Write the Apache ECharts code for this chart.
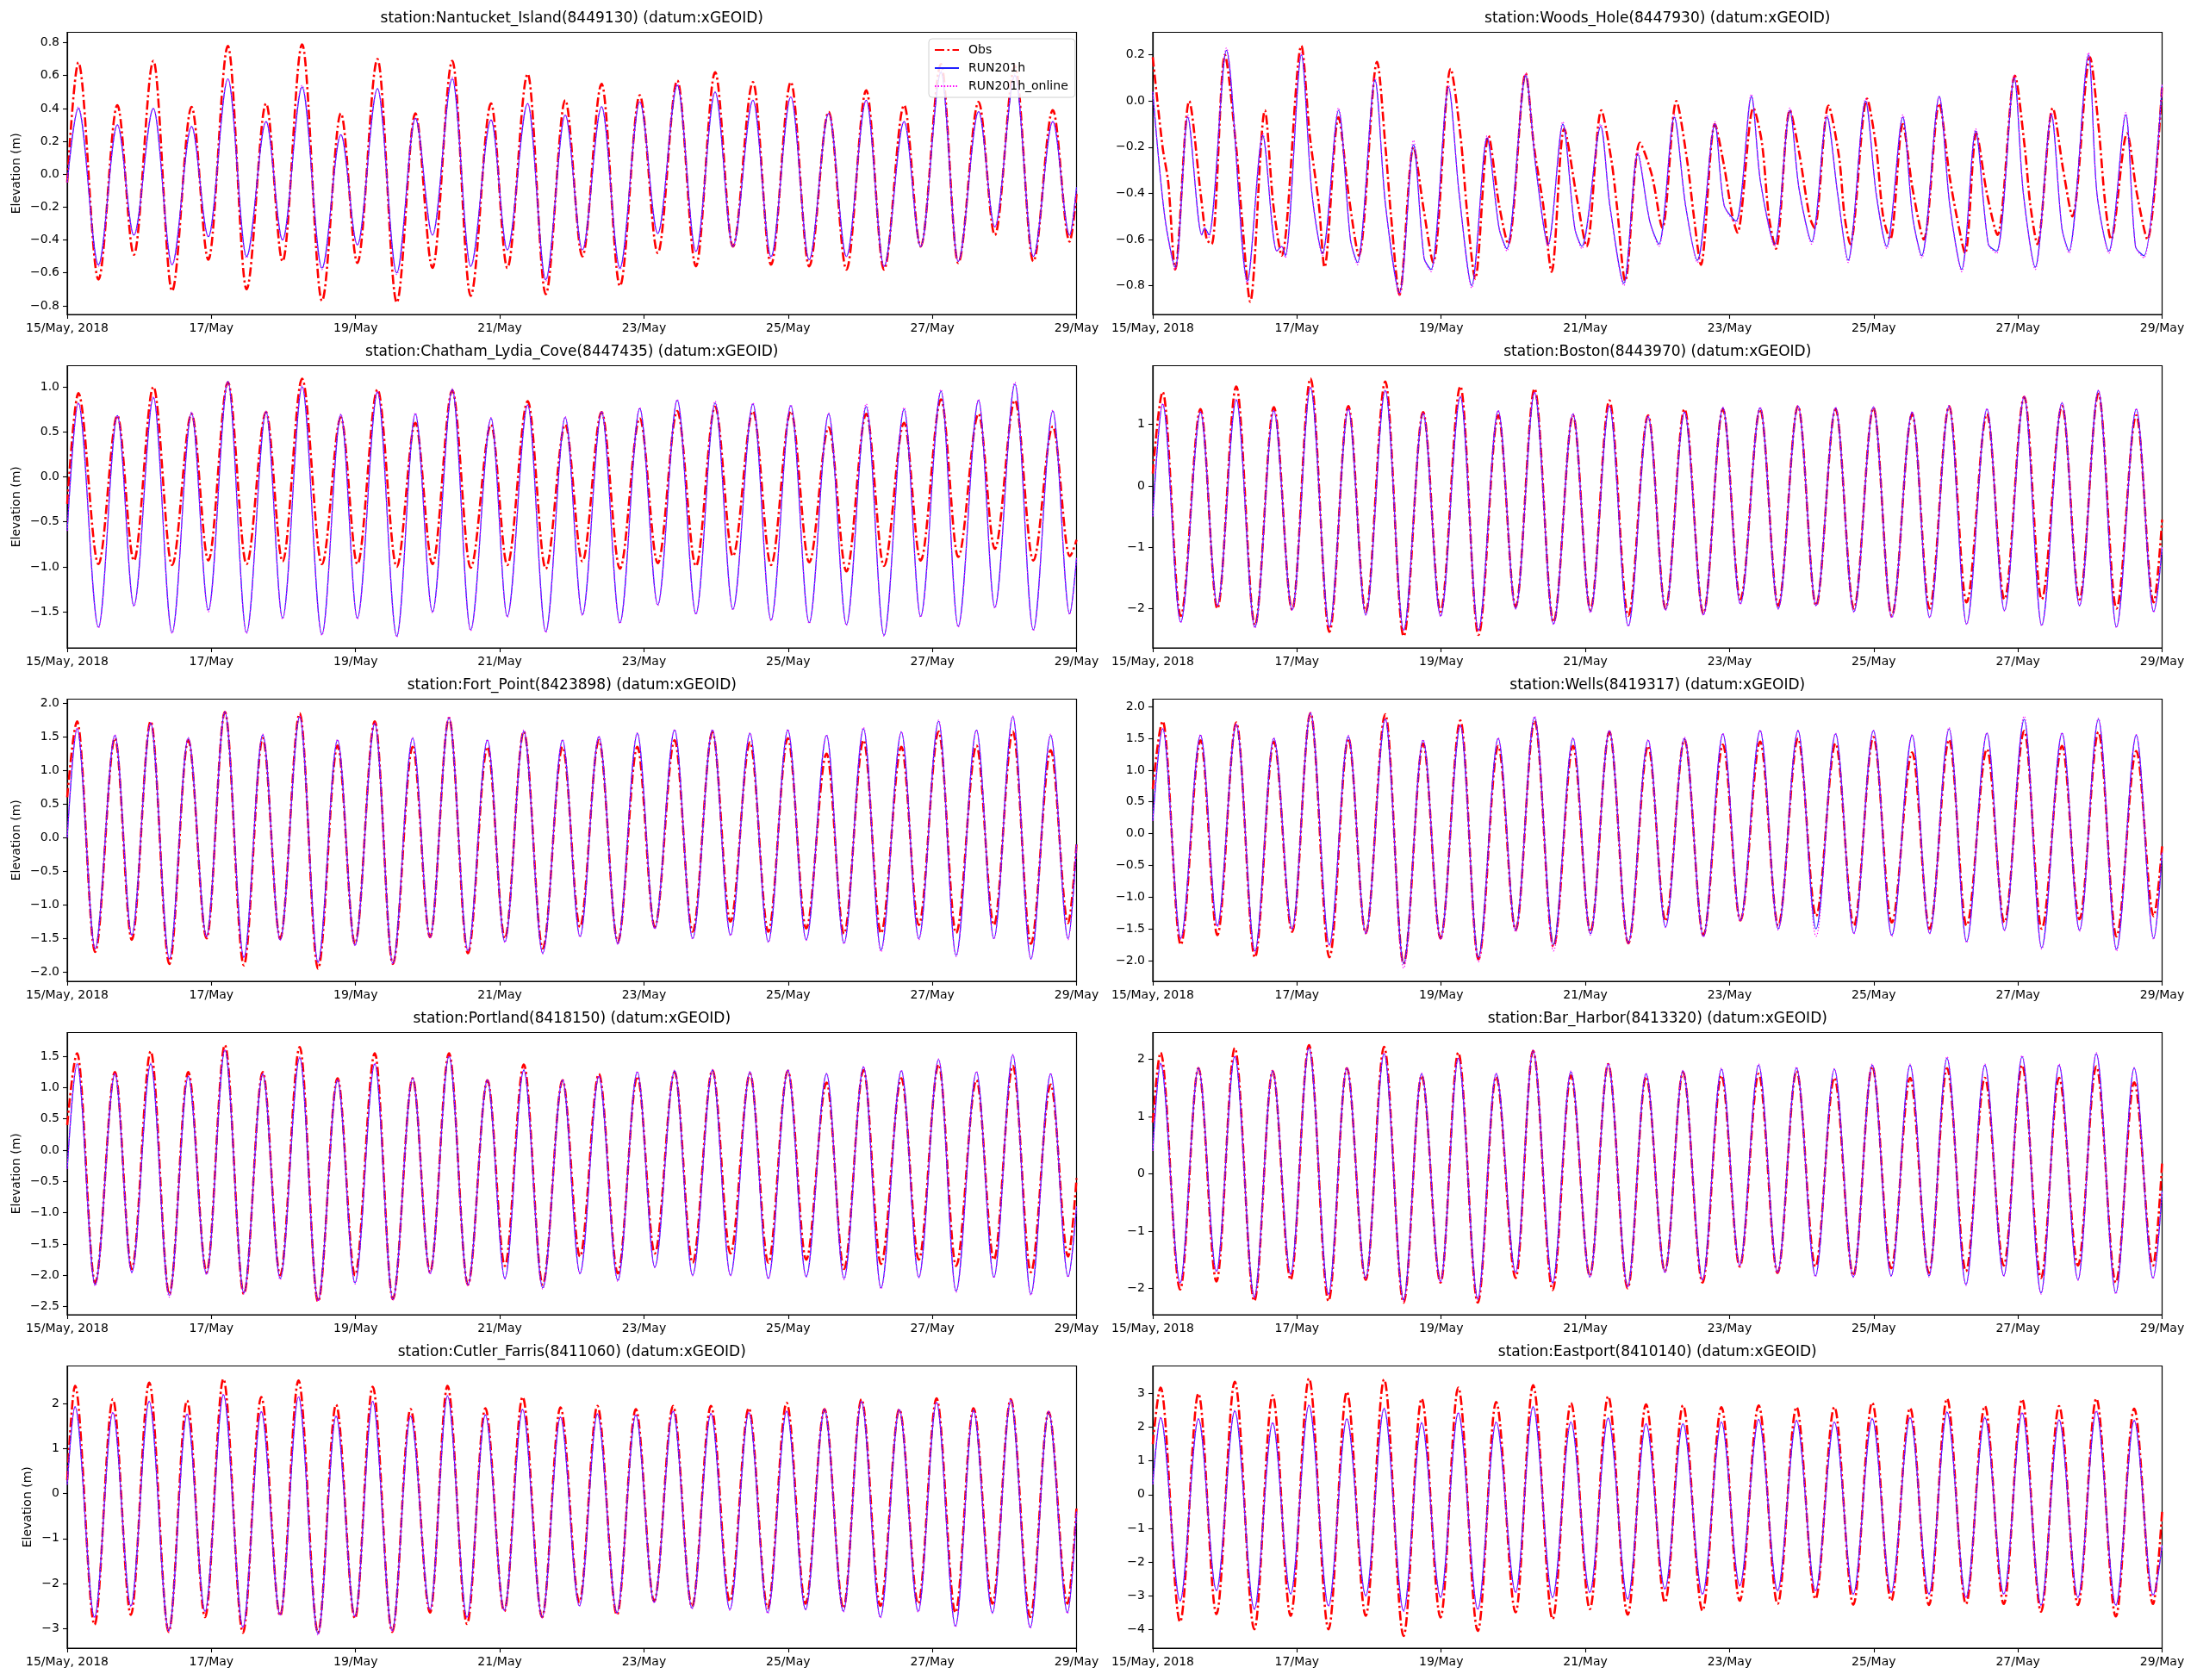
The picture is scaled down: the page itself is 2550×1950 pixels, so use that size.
<!DOCTYPE html>
<html>
<head>
<meta charset="utf-8">
<script src="https://cdn.jsdelivr.net/npm/echarts@6/dist/echarts.min.js"></script>
<style>
html, body { margin: 0; padding: 0; background: #fff; }
#main { width: 2550px; height: 1950px; }
</style>
</head>
<body>
<div id="main"></div>
<script>
// x ticks every 48 h from 15/May 2018 00:00
var xTickLabels = ['15/May, 2018', '17/May', '19/May', '21/May', '23/May', '25/May', '27/May', '29/May'];

// hours since 15/May 00:00: start, then each high / low water, then end
var tCape = [0, 3.7, 10.4, 16.7, 22.2, 28.7, 34.9, 41.4, 47.0, 53.5, 59.7, 66.2, 71.7, 78.2, 84.8, 91.1, 96.6, 103.3, 109.7, 115.9, 121.6, 128.2, 134.3, 141.1, 146.5, 153.3, 159.3, 165.8, 171.5, 177.9, 184.0, 190.6, 196.6, 203.1, 209.3, 215.7, 221.6, 228.3, 234.3, 240.9, 247.0, 253.5, 259.4, 266.0, 271.9, 278.6, 284.1, 290.9, 296.6, 303.4, 308.8, 315.5, 321.6, 328.1, 333.7, 336];
var tMid = [0, 3.3, 9.3, 15.9, 21.5, 27.8, 34.0, 40.3, 46.4, 52.5, 58.8, 65.1, 70.9, 77.4, 83.5, 90.0, 95.8, 102.4, 108.4, 115.0, 120.8, 127.1, 133.4, 139.9, 145.7, 152.0, 158.3, 164.9, 170.7, 177.0, 183.3, 189.8, 195.6, 202.2, 208.2, 214.8, 220.8, 227.3, 233.4, 239.9, 246.0, 252.8, 258.6, 265.1, 270.9, 277.7, 283.5, 290.1, 295.9, 302.7, 308.5, 314.8, 320.8, 327.4, 333.2, 336];
var tEast = [0, 2.6, 9.1, 15.2, 21.2, 27.3, 33.8, 39.9, 45.9, 52.0, 58.5, 64.6, 70.9, 77.0, 83.5, 89.5, 95.8, 101.7, 108.2, 114.3, 120.8, 126.6, 133.1, 139.2, 145.5, 151.6, 158.1, 164.2, 170.5, 176.5, 183.0, 189.3, 195.4, 201.7, 208.0, 214.3, 220.6, 226.9, 233.2, 239.5, 245.8, 252.1, 258.4, 264.4, 270.7, 277.0, 283.3, 289.4, 295.7, 301.7, 308.0, 314.1, 320.6, 326.7, 333.0, 336];
var tWoodsRun = [0, 3.97, 7.47, 11.67, 16.33, 17.27, 18.67, 24.5, 31.5, 36.63, 41.3, 42.93, 44.1, 49.47, 52.97, 56.47, 61.83, 65.8, 68.13, 73.97, 77.47, 82.13, 86.8, 90.3, 92.63, 98.47, 101.97, 106.17, 111.3, 115.27, 117.83, 124.13, 127.63, 131.6, 136.5, 140.47, 142.8, 149.1, 152.13, 156.8, 161.47, 165.43, 168.47, 173.6, 177.33, 181.3, 187.13, 190.17, 194.13, 199.27, 202.3, 206.97, 212.1, 215.13, 219.33, 224.47, 227.97, 231.47, 237.3, 240.8, 244.3, 249.67, 252.93, 255.97, 261.8, 265.3, 269.27, 273.93, 278.13, 280.93, 286.77, 289.8, 293.77, 299.13, 302.63, 304.97, 311.5, 314.3, 318.27, 323.87, 327.13, 329.93, 336];
var tWoodsObs = [0, 3.27, 5.13, 7.47, 12.13, 16.1, 17.97, 19.6, 24.03, 27.77, 29.63, 32.43, 37.33, 40.13, 42.93, 49.47, 52.27, 55.3, 57.17, 61.83, 65.33, 68.6, 74.67, 77.47, 79.33, 82.13, 86.8, 90.3, 93.33, 99.17, 102.43, 104.77, 107.33, 111.77, 115.27, 118.3, 124.13, 126.93, 129.97, 132.77, 136.97, 141.17, 144.43, 149.33, 152.6, 154.47, 157.27, 162.17, 166.13, 169.63, 174.3, 177.8, 180.13, 182.47, 187.13, 190.17, 192.97, 194.6, 199.97, 202.77, 205.1, 207.43, 212.1, 215.13, 218.63, 220.27, 224.93, 228.43, 230.3, 232.17, 237.77, 240.8, 243.13, 245.47, 249.67, 252.93, 256.67, 261.8, 265.3, 267.63, 270.43, 274.17, 277.67, 281.17, 287.0, 290.27, 292.13, 294.47, 299.6, 303.1, 306.13, 311.97, 314.77, 317.1, 318.97, 324.33, 327.6, 331.1, 336];

// elevations (m)
var nanObs = [-0.05, 0.68,-0.64, 0.42,-0.49, 0.69,-0.71, 0.41,-0.52, 0.78,-0.70, 0.43,-0.53, 0.79,-0.77, 0.37,-0.54, 0.70,-0.78, 0.37,-0.57, 0.69,-0.74, 0.43,-0.57, 0.61,-0.73, 0.45,-0.50, 0.55,-0.68, 0.48,-0.48, 0.57,-0.56, 0.62,-0.44, 0.56,-0.55, 0.56,-0.56, 0.38,-0.58, 0.51,-0.58, 0.42,-0.44, 0.67,-0.54, 0.44,-0.37, 0.66,-0.53, 0.39,-0.41, -0.12];
var nanRun = [-0.05, 0.40,-0.55, 0.30,-0.37, 0.40,-0.55, 0.29,-0.38, 0.58,-0.50, 0.32,-0.40, 0.53,-0.57, 0.24,-0.43, 0.52,-0.60, 0.34,-0.37, 0.58,-0.56, 0.33,-0.46, 0.43,-0.64, 0.36,-0.46, 0.41,-0.57, 0.44,-0.36, 0.54,-0.47, 0.50,-0.44, 0.45,-0.50, 0.47,-0.52, 0.37,-0.50, 0.45,-0.56, 0.32,-0.44, 0.62,-0.53, 0.38,-0.32, 0.60,-0.50, 0.32,-0.37, -0.08];
var nanOnline = [-0.05, 0.41,-0.56, 0.30,-0.37, 0.40,-0.55, 0.29,-0.38, 0.58,-0.51, 0.32,-0.40, 0.54,-0.58, 0.24,-0.43, 0.52,-0.61, 0.34,-0.37, 0.59,-0.56, 0.33,-0.46, 0.43,-0.65, 0.36,-0.46, 0.41,-0.58, 0.44,-0.36, 0.55,-0.47, 0.50,-0.44, 0.45,-0.51, 0.47,-0.52, 0.37,-0.50, 0.45,-0.56, 0.32,-0.44, 0.63,-0.53, 0.38,-0.32, 0.61,-0.50, 0.32,-0.37, -0.08];

var whObs = [0.19,-0.20,-0.35,-0.73, 0.00,-0.42,-0.60,-0.62, 0.20,-0.20,-0.50,-0.87, -0.04,-0.45,-0.67, 0.24,-0.15,-0.45,-0.72, -0.07,-0.42,-0.67, 0.17,-0.20,-0.50,-0.84, -0.20,-0.48,-0.70, 0.14,-0.15,-0.50,-0.77, -0.15,-0.45,-0.62, 0.12,-0.20,-0.45,-0.74, -0.12,-0.42,-0.63, -0.04,-0.25,-0.45,-0.78, -0.18,-0.32,-0.55, 0.00,-0.25,-0.50,-0.71, -0.10,-0.28,-0.50,-0.57, -0.03,-0.18,-0.50,-0.64, -0.04,-0.22,-0.50,-0.55, -0.02,-0.24,-0.50,-0.62, 0.01,-0.20,-0.50,-0.60, -0.10,-0.38,-0.60, -0.01,-0.33,-0.50,-0.66, -0.14,-0.40,-0.58, 0.11,-0.20,-0.45,-0.62, -0.03,-0.30,-0.50, 0.19,-0.10,-0.45,-0.60, -0.14,-0.40,-0.60, 0.07];
var whRun = [0.04,-0.50,-0.72,-0.07, -0.58,-0.55,-0.58,0.22, -0.78,-0.15,-0.65,-0.63, -0.67,0.20,-0.40,-0.66, -0.04,-0.60,-0.70,0.09, -0.45,-0.83,-0.19,-0.68, -0.73,0.06,-0.40,-0.80, -0.16,-0.55,-0.64,0.11, -0.30,-0.62,-0.10,-0.55, -0.63,-0.11,-0.45,-0.79, -0.23,-0.52,-0.62,-0.07, -0.45,-0.69,-0.10,-0.45, -0.52,0.02,-0.35,-0.62, -0.04,-0.38,-0.61,-0.07, -0.40,-0.69,0.00,-0.40, -0.63,-0.07,-0.50,-0.67, 0.02,-0.45,-0.73,-0.13, -0.62,-0.65,0.10,-0.40, -0.72,-0.06,-0.55,-0.65, 0.20,-0.40,-0.65,-0.06, -0.63,-0.67,0.07];
var whOnline = [0.04,-0.50,-0.73,-0.06, -0.58,-0.55,-0.59,0.23, -0.79,-0.14,-0.65,-0.63, -0.68,0.21,-0.40,-0.67, -0.03,-0.60,-0.71,0.10, -0.45,-0.84,-0.17,-0.68, -0.74,0.07,-0.40,-0.81, -0.15,-0.55,-0.65,0.12, -0.30,-0.63,-0.09,-0.55, -0.64,-0.10,-0.45,-0.80, -0.22,-0.52,-0.63,-0.06, -0.45,-0.70,-0.09,-0.45, -0.53,0.03,-0.35,-0.63, -0.03,-0.38,-0.62,-0.06, -0.40,-0.70,0.01,-0.40, -0.64,-0.06,-0.50,-0.68, 0.02,-0.45,-0.74,-0.12, -0.62,-0.66,0.11,-0.40, -0.73,-0.05,-0.55,-0.66, 0.21,-0.40,-0.66,-0.05, -0.63,-0.68,0.07];

var chaObs = [-0.30, 0.93,-0.97, 0.68,-0.93, 1.00,-0.98, 0.70,-0.93, 1.05,-0.97, 0.72,-0.94, 1.09,-0.97, 0.66,-0.97, 0.97,-1.00, 0.60,-0.97, 0.96,-1.01, 0.58,-0.98, 0.84,-1.02, 0.58,-0.94, 0.72,-1.02, 0.65,-0.96, 0.73,-0.99, 0.78,-0.88, 0.73,-0.98, 0.73,-0.95, 0.55,-1.05, 0.70,-0.99, 0.60,-0.93, 0.86,-0.89, 0.70,-0.80, 0.85,-0.93, 0.56,-0.88, -0.70];
var chaRun = [-0.60, 0.82,-1.67, 0.68,-1.43, 0.88,-1.73, 0.71,-1.48, 1.06,-1.73, 0.72,-1.57, 1.00,-1.75, 0.69,-1.57, 0.94,-1.77, 0.70,-1.50, 0.97,-1.70, 0.65,-1.55, 0.80,-1.72, 0.66,-1.53, 0.72,-1.62, 0.76,-1.42, 0.85,-1.52, 0.82,-1.47, 0.81,-1.59, 0.79,-1.62, 0.70,-1.64, 0.78,-1.76, 0.75,-1.55, 0.95,-1.66, 0.85,-1.45, 1.03,-1.70, 0.73,-1.52, -0.90];
var chaOnline = [-0.60, 0.82,-1.68, 0.68,-1.44, 0.89,-1.74, 0.72,-1.50, 1.06,-1.74, 0.73,-1.58, 1.01,-1.76, 0.70,-1.58, 0.95,-1.78, 0.71,-1.51, 0.98,-1.71, 0.66,-1.56, 0.80,-1.73, 0.67,-1.54, 0.73,-1.63, 0.77,-1.43, 0.86,-1.53, 0.84,-1.48, 0.82,-1.60, 0.80,-1.63, 0.71,-1.65, 0.81,-1.77, 0.77,-1.56, 0.97,-1.67, 0.86,-1.46, 1.05,-1.71, 0.74,-1.53, -0.90];

var booObs = [0.20, 1.53,-2.12, 1.25,-2.00, 1.62,-2.27, 1.28,-2.02, 1.75,-2.38, 1.30,-2.05, 1.70,-2.45, 1.20,-2.05, 1.62,-2.43, 1.15,-1.97, 1.58,-2.22, 1.15,-2.02, 1.39,-2.12, 1.15,-2.00, 1.25,-2.08, 1.25,-1.85, 1.25,-1.95, 1.30,-1.95, 1.25,-2.00, 1.27,-2.12, 1.17,-2.00, 1.30,-1.90, 1.17,-1.85, 1.45,-1.85, 1.30,-1.85, 1.50,-2.00, 1.15,-1.90, -0.55];
var booRun = [-0.50, 1.33,-2.22, 1.20,-1.95, 1.40,-2.30, 1.22,-2.02, 1.60,-2.30, 1.25,-2.10, 1.55,-2.35, 1.18,-2.12, 1.45,-2.35, 1.22,-2.00, 1.52,-2.25, 1.17,-2.05, 1.30,-2.28, 1.13,-2.02, 1.20,-2.10, 1.27,-1.92, 1.27,-2.00, 1.30,-1.95, 1.27,-2.05, 1.28,-2.14, 1.20,-2.14, 1.30,-2.25, 1.25,-2.03, 1.45,-2.27, 1.35,-1.95, 1.55,-2.30, 1.25,-2.05, -1.00];
var booOnline = [-0.50, 1.34,-2.23, 1.21,-1.96, 1.41,-2.32, 1.23,-2.03, 1.61,-2.31, 1.26,-2.11, 1.56,-2.36, 1.19,-2.13, 1.46,-2.36, 1.23,-2.01, 1.53,-2.26, 1.18,-2.07, 1.31,-2.29, 1.14,-2.03, 1.21,-2.11, 1.28,-1.93, 1.28,-2.01, 1.31,-1.96, 1.28,-2.06, 1.29,-2.15, 1.21,-2.15, 1.31,-2.26, 1.26,-2.04, 1.46,-2.28, 1.36,-1.96, 1.56,-2.31, 1.26,-2.06, -1.00];

var forObs = [0.60, 1.73,-1.70, 1.48,-1.52, 1.73,-1.88, 1.45,-1.50, 1.87,-1.90, 1.48,-1.50, 1.85,-1.95, 1.37,-1.58, 1.73,-1.88, 1.35,-1.48, 1.78,-1.72, 1.35,-1.50, 1.58,-1.65, 1.35,-1.33, 1.45,-1.55, 1.35,-1.33, 1.45,-1.40, 1.57,-1.25, 1.42,-1.40, 1.48,-1.35, 1.25,-1.43, 1.45,-1.42, 1.35,-1.30, 1.58,-1.42, 1.37,-1.30, 1.58,-1.58, 1.30,-1.27, -0.10];
var forRun = [0.00, 1.62,-1.65, 1.52,-1.45, 1.70,-1.80, 1.48,-1.47, 1.87,-1.78, 1.53,-1.52, 1.80,-1.85, 1.45,-1.60, 1.70,-1.87, 1.48,-1.48, 1.78,-1.68, 1.45,-1.55, 1.58,-1.72, 1.45,-1.47, 1.50,-1.58, 1.55,-1.35, 1.60,-1.50, 1.60,-1.45, 1.55,-1.55, 1.60,-1.52, 1.52,-1.57, 1.62,-1.67, 1.57,-1.50, 1.73,-1.75, 1.60,-1.50, 1.80,-1.80, 1.52,-1.50, -0.10];
var forOnline = [0.00, 1.63,-1.66, 1.53,-1.46, 1.71,-1.81, 1.49,-1.48, 1.88,-1.79, 1.54,-1.53, 1.81,-1.86, 1.46,-1.61, 1.71,-1.88, 1.49,-1.49, 1.80,-1.69, 1.46,-1.56, 1.60,-1.73, 1.46,-1.48, 1.51,-1.59, 1.56,-1.36, 1.61,-1.51, 1.61,-1.46, 1.56,-1.56, 1.61,-1.53, 1.53,-1.58, 1.64,-1.70, 1.58,-1.52, 1.75,-1.77, 1.60,-1.51, 1.81,-1.81, 1.54,-1.52, -0.10];

var welObs = [0.70, 1.77,-1.75, 1.47,-1.60, 1.75,-1.95, 1.45,-1.55, 1.90,-1.95, 1.50,-1.57, 1.88,-2.05, 1.42,-1.65, 1.78,-1.98, 1.38,-1.52, 1.78,-1.78, 1.38,-1.55, 1.60,-1.73, 1.38,-1.38, 1.48,-1.60, 1.40,-1.37, 1.45,-1.45, 1.50,-1.30, 1.42,-1.45, 1.52,-1.40, 1.28,-1.50, 1.48,-1.45, 1.33,-1.40, 1.62,-1.50, 1.38,-1.35, 1.60,-1.62, 1.30,-1.30, -0.20];
var welRun = [0.20, 1.65,-1.65, 1.55,-1.45, 1.72,-1.85, 1.50,-1.50, 1.90,-1.75, 1.53,-1.57, 1.80,-2.05, 1.47,-1.65, 1.70,-1.95, 1.50,-1.52, 1.83,-1.75, 1.50,-1.58, 1.62,-1.72, 1.47,-1.47, 1.50,-1.62, 1.57,-1.37, 1.62,-1.50, 1.62,-1.50, 1.57,-1.57, 1.62,-1.60, 1.55,-1.57, 1.65,-1.70, 1.58,-1.52, 1.80,-1.80, 1.58,-1.52, 1.80,-1.82, 1.55,-1.65, -0.30];
var welOnline = [0.20, 1.66,-1.66, 1.56,-1.47, 1.73,-1.88, 1.51,-1.52, 1.91,-1.77, 1.55,-1.58, 1.81,-2.12, 1.48,-1.67, 1.71,-2.02, 1.51,-1.55, 1.85,-1.85, 1.51,-1.60, 1.63,-1.74, 1.48,-1.48, 1.52,-1.63, 1.58,-1.38, 1.63,-1.52, 1.63,-1.62, 1.58,-1.58, 1.63,-1.62, 1.56,-1.58, 1.67,-1.72, 1.59,-1.53, 1.85,-1.82, 1.59,-1.54, 1.82,-1.85, 1.56,-1.67, -0.30];

var porObs = [0.40, 1.55,-2.12, 1.25,-1.90, 1.58,-2.30, 1.25,-1.95, 1.68,-2.30, 1.25,-2.00, 1.65,-2.42, 1.15,-2.00, 1.55,-2.38, 1.15,-1.95, 1.55,-2.15, 1.12,-1.85, 1.37,-2.15, 1.12,-1.70, 1.22,-1.97, 1.18,-1.65, 1.25,-1.80, 1.28,-1.65, 1.22,-1.80, 1.27,-1.75, 1.08,-1.90, 1.28,-1.82, 1.15,-1.75, 1.37,-1.85, 1.12,-1.75, 1.35,-1.95, 1.05,-1.70, -0.45];
var porRun = [-0.30, 1.38,-2.15, 1.22,-1.95, 1.38,-2.32, 1.18,-1.98, 1.60,-2.28, 1.22,-2.05, 1.48,-2.40, 1.12,-2.12, 1.38,-2.38, 1.15,-1.97, 1.50,-2.15, 1.12,-2.05, 1.28,-2.20, 1.12,-1.97, 1.18,-2.08, 1.25,-1.87, 1.27,-2.00, 1.28,-2.00, 1.25,-2.05, 1.28,-2.02, 1.22,-2.05, 1.33,-2.20, 1.27,-2.03, 1.45,-2.25, 1.25,-2.03, 1.52,-2.30, 1.22,-2.02, -0.90];
var porOnline = [-0.30, 1.39,-2.17, 1.23,-1.96, 1.39,-2.35, 1.19,-1.99, 1.61,-2.30, 1.23,-2.07, 1.49,-2.42, 1.13,-2.14, 1.39,-2.40, 1.16,-1.98, 1.51,-2.17, 1.13,-2.06, 1.29,-2.22, 1.13,-1.98, 1.19,-2.10, 1.26,-1.88, 1.28,-2.01, 1.29,-2.01, 1.26,-2.06, 1.29,-2.03, 1.23,-2.07, 1.34,-2.22, 1.28,-2.04, 1.46,-2.27, 1.26,-2.04, 1.53,-2.32, 1.23,-2.03, -0.90];

var barObs = [0.90, 2.12,-2.02, 1.85,-1.88, 2.20,-2.22, 1.80,-1.85, 2.25,-2.22, 1.85,-1.85, 2.22,-2.25, 1.72,-1.90, 2.12,-2.25, 1.70,-1.82, 2.15,-2.03, 1.72,-1.78, 1.92,-2.00, 1.70,-1.70, 1.78,-1.90, 1.72,-1.62, 1.75,-1.73, 1.80,-1.62, 1.68,-1.78, 1.88,-1.65, 1.68,-1.73, 1.85,-1.70, 1.68,-1.60, 1.90,-1.82, 1.68,-1.60, 1.88,-1.90, 1.60,-1.60, 0.20];
var barRun = [0.40, 1.93,-1.90, 1.85,-1.70, 2.05,-2.15, 1.80,-1.75, 2.20,-2.10, 1.85,-1.82, 2.10,-2.20, 1.75,-1.88, 2.02,-2.18, 1.75,-1.72, 2.15,-1.90, 1.78,-1.80, 1.92,-1.97, 1.75,-1.72, 1.80,-1.85, 1.83,-1.60, 1.90,-1.72, 1.85,-1.78, 1.83,-1.80, 1.90,-1.78, 1.90,-1.78, 2.02,-1.93, 1.90,-1.78, 2.05,-2.08, 1.90,-1.85, 2.10,-2.08, 1.85,-1.82, -0.30];
var barOnline = [0.40, 1.94,-1.92, 1.86,-1.71, 2.06,-2.17, 1.81,-1.76, 2.21,-2.12, 1.86,-1.83, 2.11,-2.22, 1.76,-1.89, 2.03,-2.20, 1.76,-1.73, 2.17,-1.92, 1.80,-1.81, 1.93,-1.98, 1.76,-1.73, 1.81,-1.86, 1.85,-1.61, 1.92,-1.73, 1.87,-1.80, 1.84,-1.81, 1.92,-1.79, 1.92,-1.80, 2.05,-1.95, 1.92,-1.79, 2.07,-2.10, 1.92,-1.86, 2.12,-2.10, 1.86,-1.83, -0.30];

var cutObs = [0.30, 2.40,-2.92, 2.10,-2.70, 2.47,-3.08, 2.07,-2.75, 2.55,-3.10, 2.15,-2.72, 2.52,-3.10, 1.98,-2.78, 2.38,-3.08, 1.88,-2.65, 2.40,-2.90, 1.90,-2.62, 2.15,-2.75, 1.92,-2.42, 1.95,-2.70, 1.88,-2.40, 1.95,-2.52, 1.95,-2.40, 1.90,-2.55, 2.02,-2.45, 1.88,-2.55, 2.10,-2.50, 1.88,-2.45, 2.12,-2.65, 1.90,-2.45, 2.10,-2.75, 1.82,-2.45, -0.30];
var cutRun = [0.20, 1.93,-2.75, 1.80,-2.50, 2.05,-3.05, 1.77,-2.62, 2.20,-2.97, 1.82,-2.70, 2.15,-3.12, 1.72,-2.73, 2.05,-3.05, 1.72,-2.58, 2.17,-2.75, 1.75,-2.60, 1.87,-2.75, 1.70,-2.50, 1.77,-2.65, 1.75,-2.42, 1.83,-2.55, 1.78,-2.58, 1.80,-2.65, 1.83,-2.58, 1.87,-2.62, 2.05,-2.75, 1.87,-2.62, 2.03,-2.95, 1.85,-2.65, 2.08,-2.98, 1.82,-2.65, -0.40];
var cutOnline = [0.20, 1.94,-2.77, 1.81,-2.52, 2.06,-3.07, 1.78,-2.63, 2.21,-2.99, 1.83,-2.71, 2.16,-3.15, 1.73,-2.75, 2.06,-3.07, 1.73,-2.59, 2.18,-2.77, 1.76,-2.61, 1.88,-2.77, 1.71,-2.51, 1.78,-2.67, 1.76,-2.43, 1.84,-2.57, 1.79,-2.60, 1.81,-2.67, 1.84,-2.59, 1.88,-2.64, 2.06,-2.77, 1.88,-2.64, 2.04,-2.97, 1.86,-2.67, 2.09,-3.00, 1.83,-2.67, -0.40];

var easObs = [1.50, 3.18,-3.78, 3.00,-3.55, 3.35,-4.00, 2.95,-3.60, 3.45,-4.00, 3.05,-3.60, 3.42,-4.20, 2.85,-3.65, 3.18,-4.05, 2.75,-3.50, 3.25,-3.70, 2.72,-3.40, 2.92,-3.57, 2.68,-3.20, 2.65,-3.45, 2.60,-3.15, 2.65,-3.25, 2.60,-3.10, 2.60,-3.27, 2.73,-3.15, 2.57,-3.28, 2.85,-3.25, 2.63,-3.25, 2.83,-3.48, 2.63,-3.28, 2.85,-3.62, 2.55,-3.25, -0.50];
var easRun = [0.30, 2.28,-3.15, 2.25,-2.85, 2.48,-3.40, 2.13,-2.95, 2.65,-3.30, 2.25,-3.00, 2.55,-3.45, 2.13,-3.05, 2.42,-3.40, 2.15,-2.90, 2.60,-3.05, 2.15,-2.90, 2.27,-3.10, 2.10,-2.80, 2.10,-2.95, 2.15,-2.70, 2.23,-2.85, 2.20,-2.85, 2.15,-2.95, 2.25,-2.90, 2.28,-2.95, 2.45,-3.05, 2.28,-2.95, 2.42,-3.28, 2.22,-3.05, 2.47,-3.28, 2.20,-2.98, -1.50];
var easOnline = [0.30, 2.30,-3.17, 2.26,-2.86, 2.50,-3.42, 2.14,-2.96, 2.67,-3.32, 2.26,-3.02, 2.57,-3.47, 2.14,-3.06, 2.44,-3.42, 2.16,-2.92, 2.62,-3.07, 2.16,-2.92, 2.28,-3.12, 2.11,-2.82, 2.11,-2.97, 2.16,-2.72, 2.24,-2.87, 2.21,-2.87, 2.16,-2.97, 2.27,-2.92, 2.30,-2.97, 2.47,-3.07, 2.30,-2.97, 2.44,-3.30, 2.23,-3.07, 2.49,-3.30, 2.21,-3.00, -1.50];

// y axis ranges and tick values
var nanRange = [-0.853, 0.863], nanTicks = [-0.8, -0.6, -0.4, -0.2, 0, 0.2, 0.4, 0.6, 0.8];
var whRange = [-0.925, 0.298], whTicks = [-0.8, -0.6, -0.4, -0.2, 0, 0.2];
var chaRange = [-1.90, 1.234], chaTicks = [-1.5, -1, -0.5, 0, 0.5, 1];
var booRange = [-2.64, 1.956], booTicks = [-2, -1, 0, 1];
var forRange = [-2.137, 2.06], forTicks = [-2, -1.5, -1, -0.5, 0, 0.5, 1, 1.5, 2];
var welRange = [-2.327, 2.118], welTicks = [-2, -1.5, -1, -0.5, 0, 0.5, 1, 1.5, 2];
var porRange = [-2.63, 1.88], porTicks = [-2.5, -2, -1.5, -1, -0.5, 0, 0.5, 1, 1.5];
var barRange = [-2.46, 2.47], barTicks = [-2, -1, 0, 1, 2];
var cutRange = [-3.44, 2.84], cutTicks = [-3, -2, -1, 0, 1, 2];
var easRange = [-4.56, 3.82], easTicks = [-4, -3, -2, -1, 0, 1, 2, 3];

var panels = [
    { title: 'station:Nantucket_Island(8449130) (datum:xGEOID)', tObs: tCape, tRun: tCape, obs: nanObs, run: nanRun, online: nanOnline, range: nanRange, ticks: nanTicks, dec: 1, gap: 52 },
    { title: 'station:Woods_Hole(8447930) (datum:xGEOID)', tObs: tWoodsObs, tRun: tWoodsRun, obs: whObs, run: whRun, online: whOnline, range: whRange, ticks: whTicks, dec: 1 },
    { title: 'station:Chatham_Lydia_Cove(8447435) (datum:xGEOID)', tObs: tCape, tRun: tCape, obs: chaObs, run: chaRun, online: chaOnline, range: chaRange, ticks: chaTicks, dec: 1, gap: 52 },
    { title: 'station:Boston(8443970) (datum:xGEOID)', tObs: tMid, tRun: tMid, obs: booObs, run: booRun, online: booOnline, range: booRange, ticks: booTicks, dec: 0 },
    { title: 'station:Fort_Point(8423898) (datum:xGEOID)', tObs: tMid, tRun: tMid, obs: forObs, run: forRun, online: forOnline, range: forRange, ticks: forTicks, dec: 1, gap: 52 },
    { title: 'station:Wells(8419317) (datum:xGEOID)', tObs: tMid, tRun: tMid, obs: welObs, run: welRun, online: welOnline, range: welRange, ticks: welTicks, dec: 1 },
    { title: 'station:Portland(8418150) (datum:xGEOID)', tObs: tMid, tRun: tMid, obs: porObs, run: porRun, online: porOnline, range: porRange, ticks: porTicks, dec: 1, gap: 52 },
    { title: 'station:Bar_Harbor(8413320) (datum:xGEOID)', tObs: tEast, tRun: tEast, obs: barObs, run: barRun, online: barOnline, range: barRange, ticks: barTicks, dec: 0 },
    { title: 'station:Cutler_Farris(8411060) (datum:xGEOID)', tObs: tEast, tRun: tEast, obs: cutObs, run: cutRun, online: cutOnline, range: cutRange, ticks: cutTicks, dec: 0, gap: 39 },
    { title: 'station:Eastport(8410140) (datum:xGEOID)', tObs: tEast, tRun: tEast, obs: easObs, run: easRun, online: easOnline, range: easRange, ticks: easTicks, dec: 0 }
];

function zip(t, v) {
    var out = [];
    var n = Math.min(t.length, v.length);
    for (var i = 0; i < n; i++) out.push([t[i], v[i]]);
    return out;
}

function fmtTick(v, dec) {
    var s = Math.abs(v).toFixed(dec);
    return (v < -1e-9 ? '\u2212' : '') + s;
}

var FONT = 'DejaVu Sans';
var colLeft = [78, 1338];
var gridW = 1171.5, gridH = 327.5;
var rowTop = [37.5, 424.5, 811.5, 1198.5, 1585.5];

var chart = echarts.init(document.getElementById('main'), null, { renderer: 'canvas' });

var option = {
    animation: false,
    backgroundColor: '#ffffff',
    textStyle: { fontFamily: FONT, color: '#000' },
    title: [],
    grid: [],
    xAxis: [],
    yAxis: [],
    series: [],
    legend: {
        data: ['Obs', 'RUN201h', 'RUN201h_online'],
        orient: 'vertical',
        left: 1078,
        top: 45,
        padding: [6, 8, 6, 6],
        itemGap: 7,
        itemWidth: 28,
        itemHeight: 14,
        // line series legend icons carry a marker; hide it so only the line shows
        itemStyle: { opacity: 0, color: 'rgba(0,0,0,0)', borderWidth: 0 },
        backgroundColor: 'rgba(255,255,255,0.85)',
        borderColor: '#d0d0d0',
        borderWidth: 1,
        borderRadius: 4,
        textStyle: { fontFamily: FONT, fontSize: 14, color: '#000', padding: [0, 0, 0, 6] },
        z: 20
    }
};

panels.forEach(function (p, i) {
    var col = i % 2, row = Math.floor(i / 2);
    var left = colLeft[col], top = rowTop[row];
    var woods = p.tObs !== p.tRun;

    option.title.push({
        text: p.title,
        left: left + gridW / 2,
        top: top - 24,
        textAlign: 'center',
        padding: 0,
        textStyle: { fontFamily: FONT, fontSize: 17, fontWeight: 'normal', color: '#000' }
    });

    option.grid.push({
        left: left, top: top, width: gridW, height: gridH,
        show: true, borderColor: '#000', borderWidth: 1.2, backgroundColor: 'transparent'
    });

    option.xAxis.push({
        type: 'value', gridIndex: i, min: 0, max: 336, interval: 48,
        axisLine: { show: true, onZero: false, lineStyle: { color: '#000', width: 1.2 } },
        axisTick: { show: true, inside: false, length: 5, lineStyle: { color: '#000', width: 1.1 } },
        axisLabel: {
            fontFamily: FONT, fontSize: 14, color: '#000', margin: 9,
            showMinLabel: true, showMaxLabel: true,
            formatter: function (v) { return xTickLabels[Math.round(v / 48)] || ''; }
        },
        splitLine: { show: false }
    });

    var ya = {
        type: 'value', gridIndex: i, min: p.range[0], max: p.range[1],
        axisLine: { show: true, onZero: false, lineStyle: { color: '#000', width: 1.2 } },
        axisTick: { show: true, inside: false, length: 5, customValues: p.ticks, lineStyle: { color: '#000', width: 1.1 } },
        axisLabel: {
            fontFamily: FONT, fontSize: 14, color: '#000', margin: 9,
            customValues: p.ticks,
            formatter: (function (d) { return function (v) { return fmtTick(v, d); }; })(p.dec)
        },
        splitLine: { show: false }
    };
    if (col === 0) {
        ya.name = 'Elevation (m)';
        ya.nameLocation = 'middle';
        ya.nameRotate = 90;
        ya.nameGap = p.gap;
        ya.nameTextStyle = { fontFamily: FONT, fontSize: 14, color: '#000' };
    }
    option.yAxis.push(ya);

    var base = {
        type: 'line', xAxisIndex: i, yAxisIndex: i,
        symbol: 'none', showSymbol: false,
        smooth: woods ? 0.3 : 0.34,
        smoothMonotone: woods ? undefined : 'x',
        emphasis: { disabled: true },
        clip: true
    };
    option.series.push(Object.assign({}, base, {
        name: 'Obs', data: zip(p.tObs, p.obs),
        lineStyle: { color: '#ff0000', width: 2.6, type: [11, 3.5, 2.5, 3.5] },
        itemStyle: { color: '#ff0000' }
    }));
    option.series.push(Object.assign({}, base, {
        name: 'RUN201h', data: zip(p.tRun, p.run),
        lineStyle: { color: '#2020ff', width: 1.2, type: 'solid' },
        itemStyle: { color: '#2020ff' }
    }));
    option.series.push(Object.assign({}, base, {
        name: 'RUN201h_online', data: zip(p.tRun, p.online),
        lineStyle: { color: '#ff00ff', width: 1.1, type: [1.5, 2] },
        itemStyle: { color: '#ff00ff' }
    }));
});

chart.setOption(option);
</script>
</body>
</html>
